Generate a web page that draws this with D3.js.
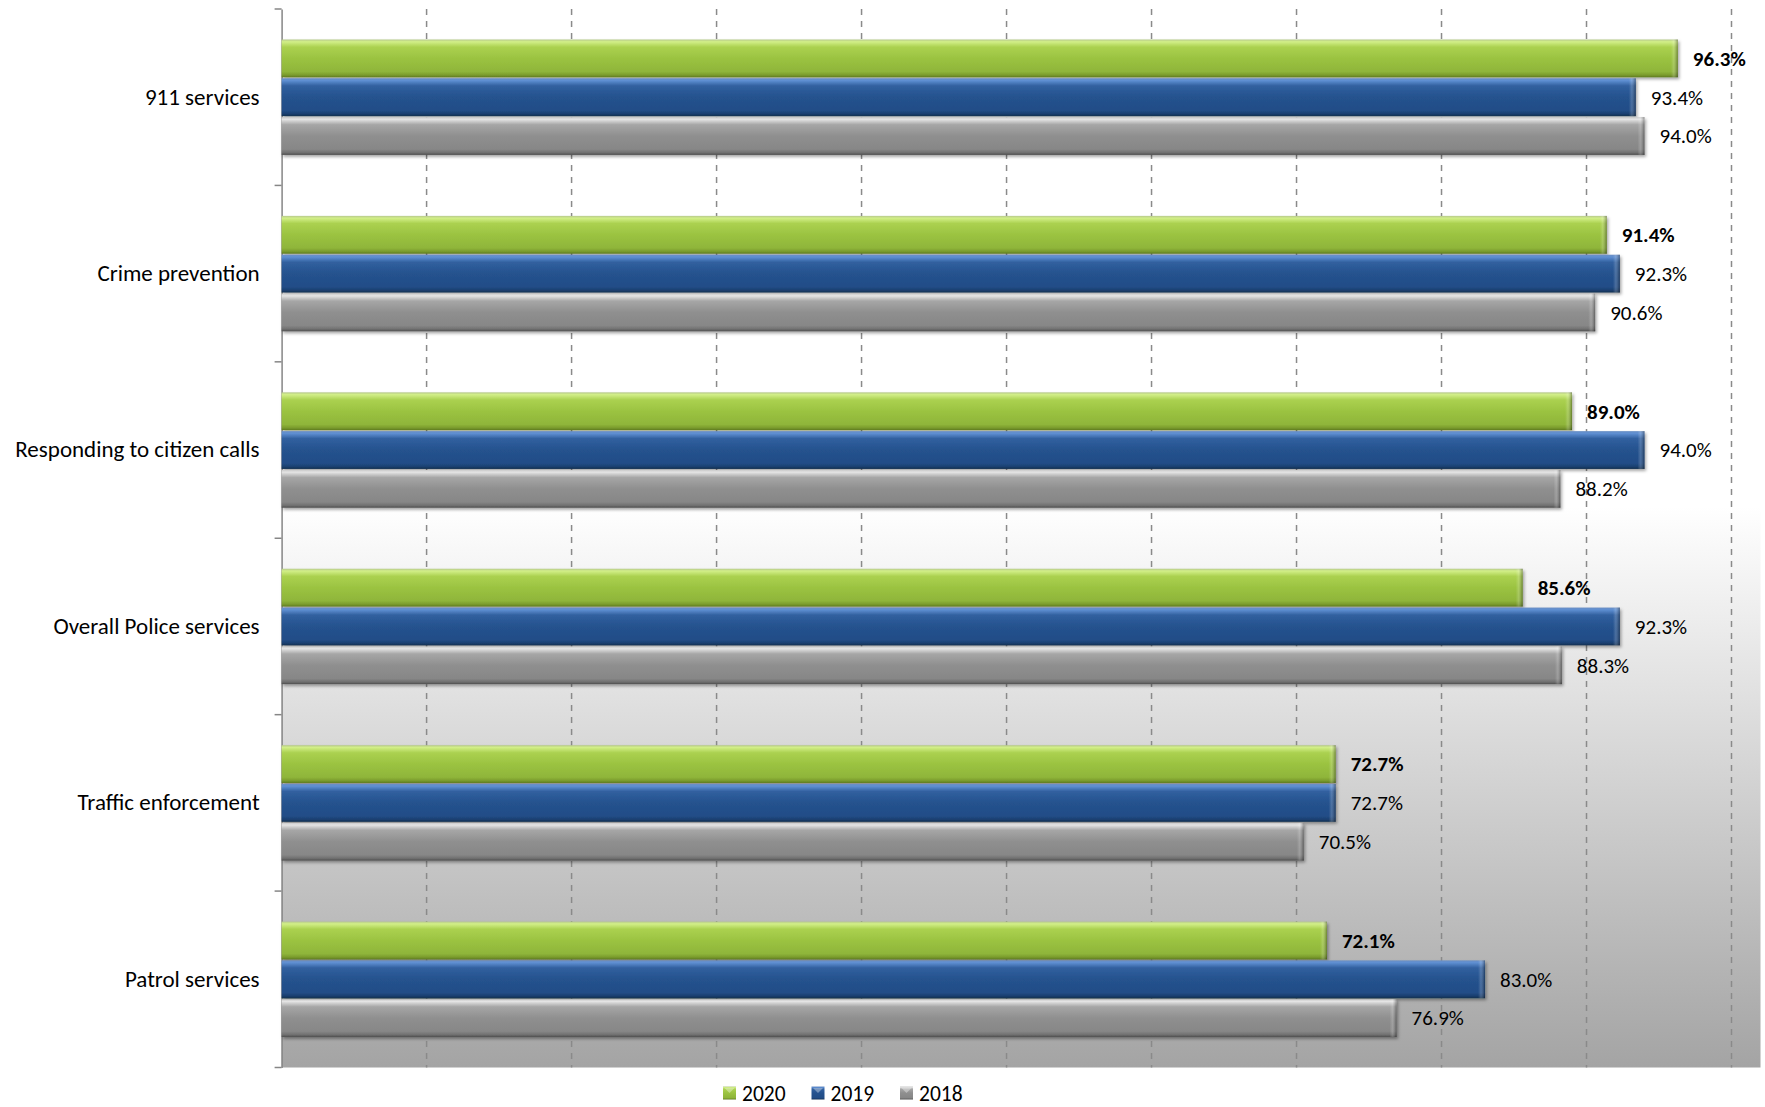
<!DOCTYPE html>
<html>
<head>
<meta charset="utf-8">
<script src="https://cdn.jsdelivr.net/npm/d3@7"></script>
<style>
  html, body { margin: 0; padding: 0; background: #ffffff; }
  svg { display: block; }
  text { font-family: Carlito, Calibri, Lato, sans-serif; fill: #000; }
</style>
</head>
<body>
<svg id="chart" width="1765" height="1107"></svg>
<script>
// Satisfaction with police services, by year (%)
const categories = [
  "911 services",
  "Crime prevention",
  "Responding to citizen calls",
  "Overall Police services",
  "Traffic enforcement",
  "Patrol services"
];
const seriesNames = ["2020", "2019", "2018"];
const values2020 = [96.3, 91.4, 89.0, 85.6, 72.7, 72.1];
const values2019 = [93.4, 92.3, 94.0, 92.3, 72.7, 83.0];
const values2018 = [94.0, 90.6, 88.2, 88.3, 70.5, 76.9];
const gridTicks = [10, 20, 30, 40, 50, 60, 70, 80, 90, 100];

const seriesValues = { "2020": values2020, "2019": values2019, "2018": values2018 };

const width = 1765, height = 1107;
const plot = { left: 281.6, right: 1760.5, top: 9, bottom: 1067.5 };

const svg = d3.select("#chart");
const defs = svg.append("defs");

// Plot-area background: white fading to grey towards the bottom
const bg = defs.append("linearGradient").attr("id", "bgGrad")
  .attr("x1", 0).attr("y1", 0).attr("x2", 0).attr("y2", 1);
bg.append("stop").attr("offset", 0).attr("stop-color", "#ffffff");
bg.append("stop").attr("offset", 0.47).attr("stop-color", "#ffffff");
bg.append("stop").attr("offset", 1).attr("stop-color", "#a4a4a4");

// Bevelled bar fills, one per series
const barStyles = {
  "2020": [[0, "#b7c98c"], [0.06, "#d2ef88"], [0.2, "#abd150"], [0.5, "#9bc341"], [0.85, "#8fb53a"], [0.94, "#7a9b2d"], [1, "#5d7a20"]],
  "2019": [[0, "#6b8fc4"], [0.06, "#5f8fd2"], [0.2, "#31609f"], [0.5, "#25528e"], [0.85, "#224d87"], [0.94, "#1b3f70"], [1, "#13304f"]],
  "2018": [[0, "#c9c9c9"], [0.06, "#e4e4e4"], [0.2, "#a6a6a6"], [0.5, "#8f8f8f"], [0.85, "#878787"], [0.94, "#707070"], [1, "#4f4f4f"]]
};
Object.entries(barStyles).forEach(([key, stops]) => {
  const g = defs.append("linearGradient").attr("id", "bar" + key)
    .attr("x1", 0).attr("y1", 0).attr("x2", 0).attr("y2", 1);
  stops.forEach(([o, c]) => g.append("stop").attr("offset", o).attr("stop-color", c));
});

// Rounded right end of each bar
const endGrad = defs.append("linearGradient").attr("id", "barEnd")
  .attr("x1", 0).attr("y1", 0).attr("x2", 1).attr("y2", 0);
endGrad.append("stop").attr("offset", 0).attr("stop-color", "#ffffff").attr("stop-opacity", 0);
endGrad.append("stop").attr("offset", 0.4).attr("stop-color", "#ffffff").attr("stop-opacity", 0.18);
endGrad.append("stop").attr("offset", 1).attr("stop-color", "#000000").attr("stop-opacity", 0.35);

const shadow = defs.append("filter").attr("id", "barShadow")
  .attr("x", "-2%").attr("y", "-20%").attr("width", "104%").attr("height", "150%");
shadow.append("feDropShadow").attr("dx", 1.5).attr("dy", 2).attr("stdDeviation", 1.6)
  .attr("flood-color", "#000").attr("flood-opacity", 0.35);

// Scales
const x = d3.scaleLinear().domain([0, 102]).range([plot.left, plot.right]);
const y = d3.scaleBand().domain(categories).range([plot.top, plot.bottom])
  .paddingInner(0.34).paddingOuter(0.17);
const ySeries = d3.scaleBand().domain(seriesNames).range([0, y.bandwidth()]).padding(0);
const yTicks = d3.scaleBand().domain(categories).range([plot.top, plot.bottom]).padding(0);

// Background
svg.append("rect")
  .attr("x", plot.left).attr("y", plot.top)
  .attr("width", plot.right - plot.left).attr("height", plot.bottom - plot.top)
  .attr("fill", "url(#bgGrad)");

// Dashed vertical gridlines
svg.append("g").selectAll("line").data(gridTicks).join("line")
  .attr("x1", d => x(d)).attr("x2", d => x(d))
  .attr("y1", plot.top).attr("y2", plot.bottom)
  .attr("stroke", "#8a8a8a").attr("stroke-width", 1.5)
  .attr("stroke-dasharray", "6,6");

// Category axis
const yAxis = d3.axisLeft(yTicks).tickSize(0).tickPadding(22).tickSizeOuter(0);
const axisG = svg.append("g").attr("transform", `translate(${plot.left},0)`).call(yAxis);
axisG.select(".domain").attr("stroke", "#868686").attr("stroke-width", 1.5);
axisG.selectAll(".tick text")
  .style("font-size", "23px").attr("fill", "#000");
// tick marks on the boundaries between categories
const boundaries = categories.map(c => yTicks(c)).concat([plot.bottom]);
axisG.append("g").selectAll("line").data(boundaries).join("line")
  .attr("x1", -7).attr("x2", 0)
  .attr("y1", d => d).attr("y2", d => d)
  .attr("stroke", "#868686").attr("stroke-width", 1.5);

// Bars
const rows = [];
categories.forEach((c, i) => {
  seriesNames.forEach(s => rows.push({ cat: c, series: s, value: seriesValues[s][i] }));
});

const barG = svg.append("g");
const bar = barG.selectAll("g.bar").data(rows).join("g").attr("class", "bar")
  .attr("transform", d => `translate(0,${y(d.cat) + ySeries(d.series)})`);

bar.append("rect")
  .attr("x", x(0)).attr("y", 0.5)
  .attr("width", d => x(d.value) - x(0))
  .attr("height", ySeries.bandwidth() - 1)
  .attr("fill", d => `url(#bar${d.series})`)
  .attr("filter", "url(#barShadow)");

bar.append("rect")
  .attr("x", d => x(d.value) - 7).attr("y", 0.5)
  .attr("width", 7).attr("height", ySeries.bandwidth() - 1)
  .attr("fill", "url(#barEnd)");

// Value labels
bar.append("text")
  .attr("x", d => x(d.value) + 15)
  .attr("y", ySeries.bandwidth() / 2)
  .attr("dy", "0.35em")
  .style("font-size", "21px")
  .style("font-weight", d => d.series === "2020" ? "bold" : "normal")
  .text(d => d.value.toFixed(1) + "%");

// Legend
const legendX = d3.scalePoint().domain(seriesNames).range([723, 900]);
const legend = svg.append("g").selectAll("g").data(seriesNames).join("g")
  .attr("transform", d => `translate(${legendX(d)},1086.5)`);
legend.append("rect")
  .attr("width", 13).attr("height", 13)
  .attr("fill", d => `url(#bar${d})`);
legend.append("path")
  .attr("d", "M1.5,1.5 L11.5,1.5 L6.5,6.5 Z")
  .attr("fill", "#ffffff").attr("fill-opacity", 0.35);
legend.append("text")
  .attr("x", 19).attr("y", 6.5).attr("dy", "0.36em")
  .style("font-size", "21.5px")
  .text(d => d);
</script>
</body>
</html>
